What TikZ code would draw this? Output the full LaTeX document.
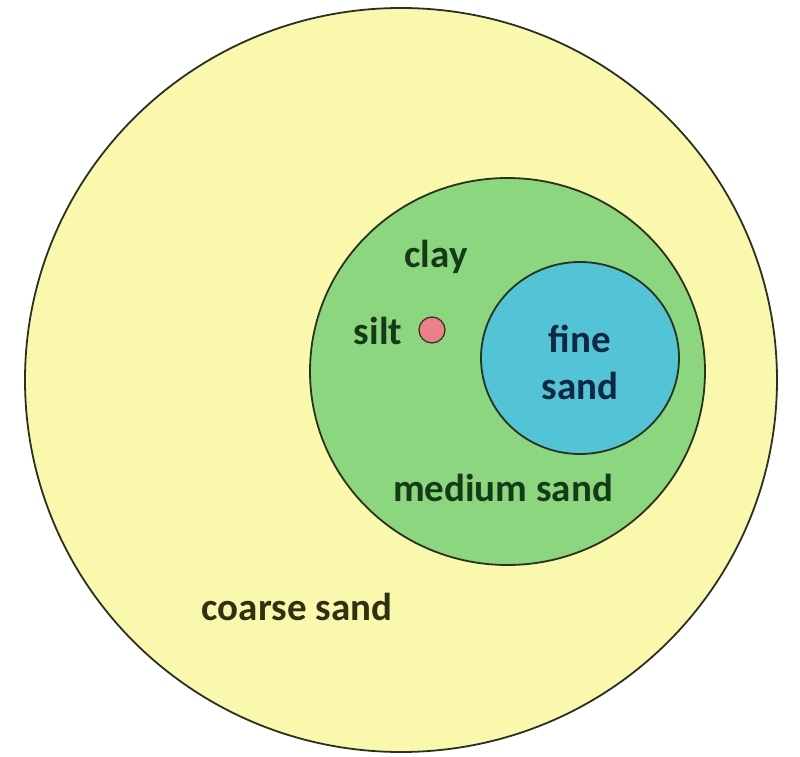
\documentclass[tikz,border=0pt]{standalone}
\usepackage{fontspec}
\setmainfont{Carlito}
\definecolor{coarsefill}{RGB}{250,248,172}
\definecolor{medfill}{RGB}{140,214,128}
\definecolor{finefill}{RGB}{82,196,214}
\definecolor{siltfill}{RGB}{236,128,136}
\definecolor{ringcol}{RGB}{40,50,30}
\definecolor{txtgreen}{RGB}{20,58,22}
\definecolor{txtblue}{RGB}{18,40,66}
\definecolor{txtolive}{RGB}{48,48,18}
\begin{document}
\begin{tikzpicture}[x=1pt,y=-1pt,
  ring/.style={draw=ringcol,line width=1.8pt},
  lbl/.style={font=\fontsize{39}{47}\selectfont\bfseries,inner sep=0pt,align=center}]
\useasboundingbox (0,0) rectangle (800,757);
\fill[white] (0,0) rectangle (800,757);
\filldraw[ring,fill=coarsefill] (401,380) ellipse [x radius=376,y radius=372];
\filldraw[ring,fill=medfill] (507.5,371.5) ellipse [x radius=197.5,y radius=193.5];
\filldraw[ring,fill=finefill] (580,358) ellipse [x radius=99,y radius=96];
\filldraw[draw=ringcol,line width=1.2pt,fill=siltfill] (432,330) circle (13);
\node[lbl,text=txtgreen] (clay) at (436,257) {clay};
\node[lbl,text=txtgreen] (silt) at (378,331) {silt};
\node[lbl,text=txtblue] (fine) at (580,362) {fine\\sand};
\node[lbl,text=txtgreen] (medium) at (503,488) {medium sand};
\node[lbl,text=txtolive] (coarse) at (297,607) {coarse sand};
\end{tikzpicture}
\end{document}
